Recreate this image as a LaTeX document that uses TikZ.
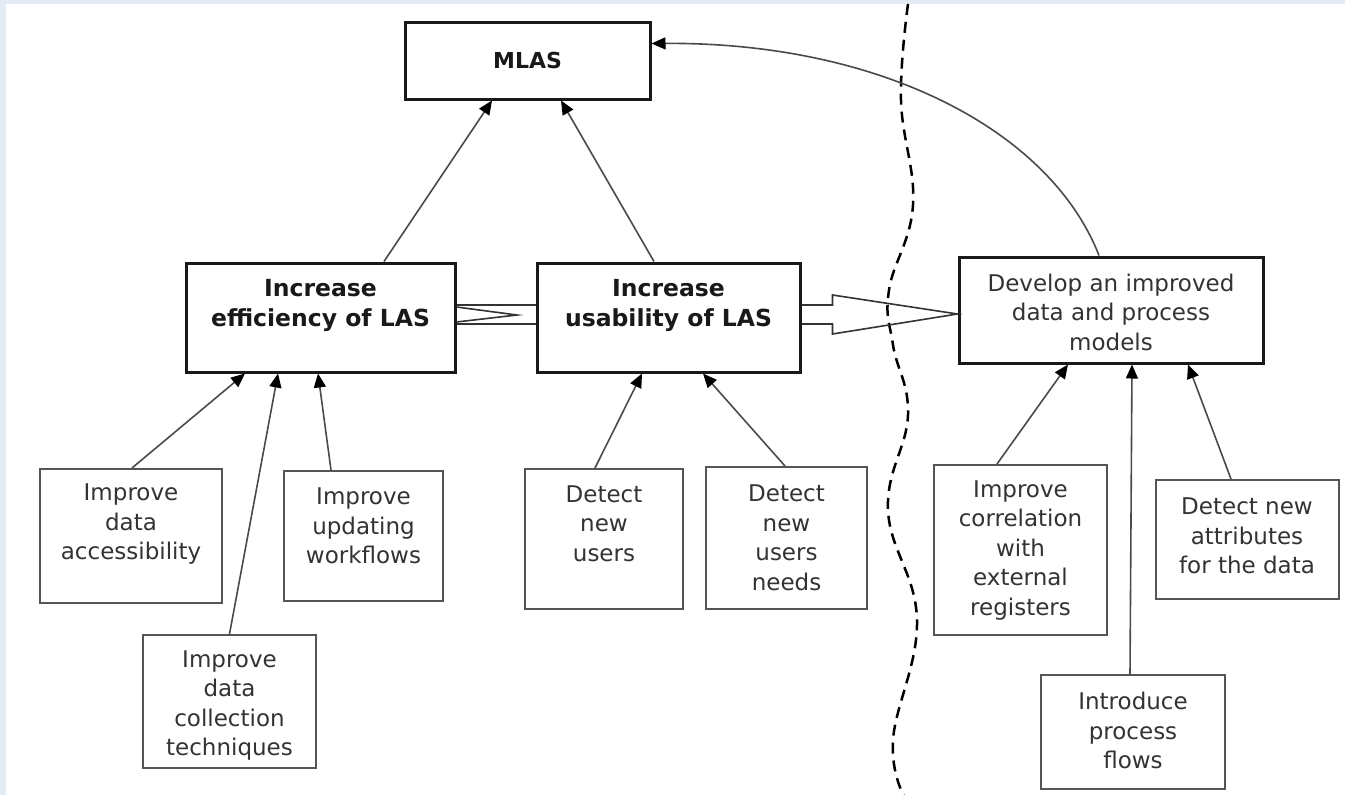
\documentclass[tikz,border=0pt]{standalone}
\usepackage{fontspec}
\setmainfont{DejaVu Sans}
\usetikzlibrary{arrows.meta,calc}
\definecolor{framebg}{HTML}{E4EBF4}
\definecolor{txtgray}{HTML}{333333}
\definecolor{linegray}{HTML}{4A4A4A}
\definecolor{boxgray}{HTML}{555555}
\begin{document}
\begin{tikzpicture}[x=1pt,y=-1pt,
  thickbox/.style={draw=black!90, line width=3pt, inner sep=0pt, fill=white},
  thinbox/.style={draw=boxgray, line width=2pt, inner sep=0pt, fill=white},
  rtxt/.style={font=\fontsize{23}{29.5}\selectfont, text=txtgray, align=center, inner sep=0pt},
  btxt/.style={font=\fontsize{23.5}{30}\selectfont\bfseries, text=black!90, align=center, inner sep=0pt},
  conn/.style={draw=linegray, line width=1.6pt, -{Triangle[length=14pt,width=12pt,color=black]}},
  blockline/.style={draw=black!80, line width=1.6pt, line join=miter},
  dashline/.style={draw=black, line width=2.5pt, dash pattern=on 11pt off 7pt}
]
\fill[framebg] (0,0) rectangle (1345,795);
\fill[white] (6,4) rectangle (1345,795);
\useasboundingbox (0,0) rectangle (1345,795);

% dashed boundary
\draw[dashline] plot[smooth, tension=0.7] coordinates {(908,4) (901,100) (913,205) (889,290) (893,345) (908,415) (888,510) (917,620) (893,740) (905,798)};

% main boxes
\node[thickbox, minimum width=245pt, minimum height=77pt] (mlas) at (527.5,60.5) {};
\node[btxt, font=\fontsize{22}{28}\selectfont\bfseries] (mlasT) at (527.5,60.5) {MLAS};

\node[thickbox, minimum width=269pt, minimum height=109pt] (eff) at (320.5,317.5) {};
\node[btxt] (effT) at (320.5,305) {Increase\\efficiency of LAS};

\node[thickbox, minimum width=263pt, minimum height=109pt] (usa) at (668.5,317.5) {};
\node[btxt] (usaT) at (668.5,305) {Increase\\usability of LAS};

\node[thickbox, minimum width=304pt, minimum height=106pt] (dev) at (1111,310) {};
\node[rtxt] (devT) at (1111,312) {Develop an improved\\data and process\\models};

% sub boxes
\node[thinbox, minimum width=182pt, minimum height=134pt] (acc) at (131,536) {};
\node[rtxt] (accT) at (131,524.5) {Improve\\data\\accessibility};

\node[thinbox, minimum width=159pt, minimum height=130pt] (upd) at (363.5,536) {};
\node[rtxt] (updT) at (363.5,526) {Improve\\updating\\workflows};

\node[thinbox, minimum width=173pt, minimum height=133pt] (col) at (229.5,701.5) {};
\node[rtxt] (colT) at (229.5,705.5) {Improve\\data\\collection\\techniques};

\node[thinbox, minimum width=158pt, minimum height=140pt] (dnu) at (604,539) {};
\node[rtxt] (dnuT) at (604,523.5) {Detect\\new\\users};

\node[thinbox, minimum width=161pt, minimum height=142pt] (dnn) at (786.5,538) {};
\node[rtxt] (dnnT) at (786.5,538) {Detect\\new\\users\\needs};

\node[thinbox, minimum width=173pt, minimum height=170pt] (cor) at (1020.5,550) {};
\node[rtxt] (corT) at (1020.5,550.5) {Improve\\correlation\\with\\external\\registers};

\node[thinbox, minimum width=183pt, minimum height=119pt] (att) at (1247,539.5) {};
\node[rtxt] (attT) at (1247,536) {Detect new\\attributes\\for the data};

\node[thinbox, minimum width=184pt, minimum height=114pt] (intro) at (1133,732) {};
\node[rtxt] (introT) at (1133,730.5) {Introduce\\process\\flows};

% block arrows
\draw[blockline] ([yshift=12.5pt]eff.east) -- ([yshift=12.5pt]usa.west);
\draw[blockline] ([yshift=-6.5pt]eff.east) -- ([yshift=-6.5pt]usa.west);
\draw[blockline] ([yshift=10.5pt]eff.east) -- ([xshift=60.5pt,yshift=2.5pt]eff.east) -- ([yshift=-4.5pt]eff.east);

\draw[blockline] ([yshift=12.5pt]usa.east) -- ++(31pt,0) -- ++(0,10pt) -- ([yshift=-4pt]dev.west)
  -- ([xshift=31pt,yshift=-16.5pt]usa.east) -- ++(0,10pt) -- ([yshift=-6.5pt]usa.east);

% connectors
\draw[conn] ([xshift=63.5pt]eff.north) -- ([xshift=-35.5pt]mlas.south);
\draw[conn] ([xshift=-14.5pt]usa.north) -- ([xshift=33.5pt]mlas.south);
\draw[conn] ([xshift=-12pt]dev.north) .. controls (1050,130) and (880,42) .. ([yshift=17pt]mlas.east);

\draw[conn] ([xshift=1pt]acc.north) -- ([xshift=-75.5pt]eff.south);
\draw[conn] (col.north) -- ([xshift=-42.5pt]eff.south);
\draw[conn] ([xshift=-32.5pt]upd.north) -- ([xshift=-2.5pt]eff.south);

\draw[conn] ([xshift=-9pt]dnu.north) -- ([xshift=-26.5pt]usa.south);
\draw[conn] ([xshift=-1.5pt]dnn.north) -- ([xshift=34.5pt]usa.south);

\draw[conn] ([xshift=-23.5pt]cor.north) -- ([xshift=-43pt]dev.south);
\draw[conn] ([xshift=-3pt]intro.north) -- ([xshift=21pt]dev.south);
\draw[conn] ([xshift=-16pt]att.north) -- ([xshift=77pt]dev.south);
\end{tikzpicture}
\end{document}
